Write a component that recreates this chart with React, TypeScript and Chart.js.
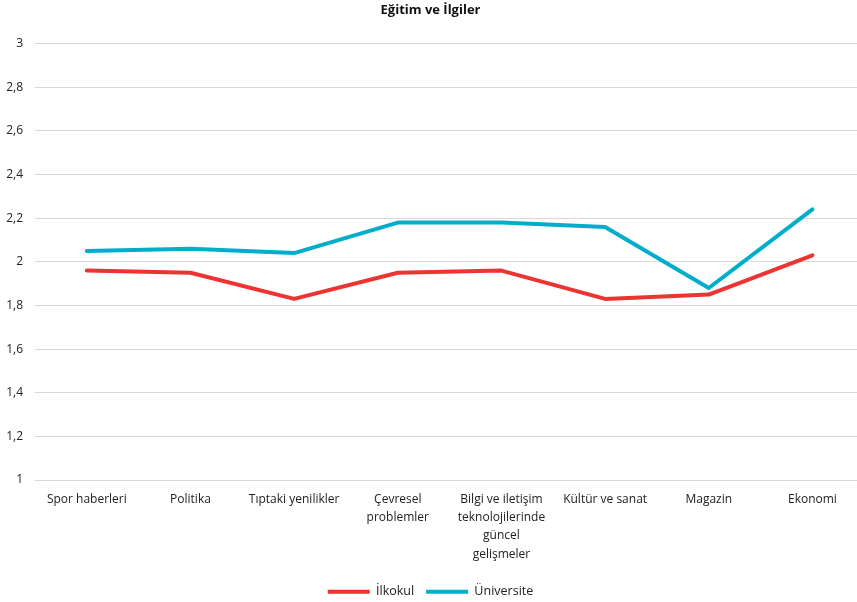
import React, { useEffect, useRef } from "react";
import { Chart, registerables } from "chart.js";

Chart.register(...registerables);

const categories: (string | string[])[] = [
  "Spor haberleri",
  "Politika",
  "Tıptaki yenilikler",
  ["Çevresel", "problemler"],
  ["Bilgi ve iletişim", "teknolojilerinde", "güncel", "gelişmeler"],
  "Kültür ve sanat",
  "Magazin",
  "Ekonomi",
];
const ilkokul = [1.96, 1.95, 1.83, 1.95, 1.96, 1.83, 1.85, 2.03];
const universite = [2.05, 2.06, 2.04, 2.18, 2.18, 2.16, 1.88, 2.24];
const yTicks = [1, 1.2, 1.4, 1.6, 1.8, 2, 2.2, 2.4, 2.6, 2.8, 3];

const FONT = "'Open Sans', 'Noto Sans', sans-serif";

export default function App() {
  const ref = useRef<HTMLCanvasElement | null>(null);
  useEffect(() => {
    document.body.style.margin = "0";
    const ctx = ref.current!;
    const chart = new Chart(ctx, {
      type: "line",
      data: {
        datasets: [
          {
            label: "İlkokul",
            data: ilkokul.map((v, i) => ({ x: i, y: v })),
            borderColor: "#EE3333",
            backgroundColor: "#EE3333",
            borderWidth: 4,
            borderCapStyle: "round",
            borderJoinStyle: "round",
            pointRadius: 0,
            pointHoverRadius: 0,
            tension: 0,
          },
          {
            label: "Üniversite",
            data: universite.map((v, i) => ({ x: i, y: v })),
            borderColor: "#00AECB",
            backgroundColor: "#00AECB",
            borderWidth: 4,
            borderCapStyle: "round",
            borderJoinStyle: "round",
            pointRadius: 0,
            pointHoverRadius: 0,
            tension: 0,
          },
        ],
      },
      options: {
        animation: false,
        responsive: false,
        maintainAspectRatio: false,
        layout: { padding: { left: 4, right: 0, top: 2, bottom: -6 } },
        plugins: {
          title: {
            display: true,
            text: "Eğitim ve İlgiler",
            color: "#111",
            font: { family: FONT, size: 13, weight: "bold" },
            padding: { top: 0, bottom: 26 },
          },
          legend: {
            position: "bottom",
            labels: {
              usePointStyle: true,
              pointStyle: "line",
              pointStyleWidth: 42,
              color: "#222",
              font: { family: FONT, size: 12.5 },
              padding: 12,
            },
          },
          tooltip: { enabled: false },
        },
        scales: {
          x: {
            type: "linear",
            min: -0.5,
            max: 7.43,
            afterBuildTicks: (axis: any) => {
              axis.ticks = categories.map((_, i) => ({ value: i }));
            },
            afterFit: (axis: any) => {
              axis.paddingLeft = 0;
              axis.paddingRight = 0;
            },
            ticks: {
              autoSkip: false,
              maxRotation: 0,
              color: "#222",
              font: { family: FONT, size: 12, lineHeight: 1.53 },
              padding: 10,
              callback: (v: any) => categories[Number(v)] as any,
            },
            grid: { display: false, drawTicks: false },
            border: { display: true, color: "#d9d9d9", width: 1 },
          },
          y: {
            min: 1,
            max: 3,
            afterBuildTicks: (axis: any) => {
              axis.ticks = yTicks.map((v) => ({ value: v }));
            },
            afterFit: (axis: any) => {
              axis.width = 31;
            },
            ticks: {
              color: "#222",
              font: { family: FONT, size: 12 },
              padding: 12,
              callback: (v: any) => String(Number(v).toFixed(1)).replace(/\.0$/, "").replace(".", ","),
            },
            grid: { color: "#d9d9d9", drawTicks: false, lineWidth: 1 },
            border: { display: false },
          },
        },
      },
    } as any);
    return () => chart.destroy();
  }, []);
  return (
    <div style={{ width: 857, height: 602, background: "#fff" }}>
      <canvas ref={ref} width={857} height={602} />
    </div>
  );
}
